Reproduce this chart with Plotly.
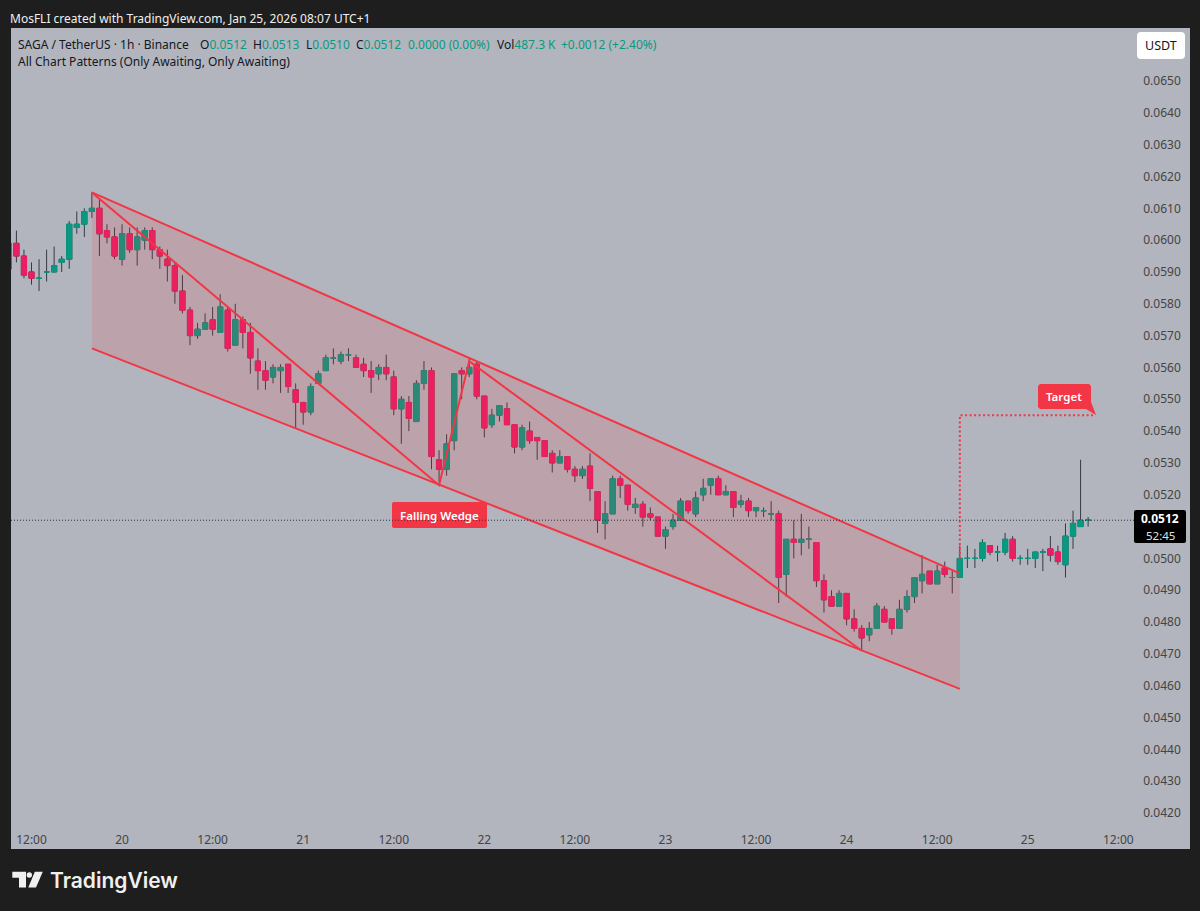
import pandas as pd
import plotly.graph_objects as go

# hourly candles, prices in ticks of 0.0001, first candle is Jan 19 09:00
PRICE_TICK = 0.0001
start = "2026-01-19 09:00"

opens = [
    591, 599, 595, 590, 588, 590, 590, 593, 594, 604, 605, 609,
    610, 603, 601, 594, 602, 597, 600, 603, 597, 594, 592, 584,
    578, 570, 572, 575, 571, 578, 567, 575, 571, 562, 559, 557,
    559, 561, 553, 549, 546, 555, 559, 563, 562, 564, 563, 561,
    559, 558, 560, 557, 547, 549, 543, 555, 559, 531, 528, 537,
    559, 558, 561, 551, 542, 545, 547, 542, 535, 540, 538, 537,
    533, 530, 532, 528, 526, 529, 521, 511, 514, 525, 523, 516,
    517, 514, 513, 507, 510, 512, 518, 514, 520, 523, 525, 520,
    521, 517, 518, 515, 515, 514, 514, 495, 506, 505, 506, 505,
    493, 488, 485, 489, 481, 478, 476, 478, 484, 481, 478, 484,
    488, 493, 496, 492, 497, 494, 494, 500, 500, 500, 504, 502,
    502, 506, 500, 500, 500, 502, 503, 502, 498, 507, 510, 512,
]
highs = [
    600, 603, 597, 593, 594, 597, 598, 595, 606, 609, 610, 615,
    613, 605, 604, 605, 604, 604, 604, 604, 598, 597, 593, 589,
    579, 574, 577, 579, 583, 579, 580, 576, 574, 566, 562, 561,
    561, 561, 555, 549, 555, 559, 564, 566, 565, 566, 564, 563,
    562, 561, 564, 559, 551, 551, 556, 562, 560, 534, 539, 558,
    560, 563, 562, 551, 547, 548, 549, 542, 542, 543, 538, 537,
    534, 534, 532, 529, 529, 533, 521, 518, 526, 526, 523, 519,
    518, 516, 513, 510, 514, 519, 518, 521, 525, 525, 526, 523,
    521, 520, 519, 516, 516, 518, 515, 506, 512, 514, 510, 505,
    495, 490, 490, 489, 484, 479, 480, 486, 485, 481, 487, 490,
    494, 501, 496, 498, 499, 496, 504, 504, 503, 506, 504, 504,
    508, 507, 501, 503, 502, 503, 507, 504, 511, 515, 531, 513,
]
lows = [
    590, 593, 588, 586, 584, 587, 590, 590, 591, 602, 601, 607,
    595, 599, 594, 592, 596, 592, 597, 594, 591, 587, 580, 577,
    567, 569, 572, 570, 571, 565, 567, 566, 558, 553, 553, 555,
    552, 552, 541, 542, 545, 555, 559, 561, 561, 562, 560, 557,
    552, 556, 556, 545, 536, 540, 543, 553, 528, 524, 526, 534,
    550, 557, 550, 538, 541, 543, 542, 533, 534, 536, 531, 532,
    527, 530, 527, 524, 525, 518, 508, 506, 514, 519, 515, 514,
    510, 512, 507, 503, 509, 512, 514, 513, 518, 520, 520, 520,
    513, 516, 513, 513, 513, 512, 486, 488, 500, 501, 503, 491,
    483, 485, 485, 479, 477, 471, 474, 478, 480, 476, 478, 483,
    486, 489, 492, 492, 494, 489, 494, 497, 497, 499, 501, 499,
    501, 499, 498, 498, 497, 496, 499, 498, 494, 503, 510, 510,
]
closes = [
    599, 595, 589, 588, 588, 590, 592, 594, 605, 605, 609, 610,
    602, 601, 595, 602, 597, 601, 603, 597, 595, 592, 584, 578,
    570, 572, 574, 572, 579, 566, 575, 571, 563, 559, 556, 560,
    560, 554, 549, 546, 554, 558, 563, 563, 564, 564, 560, 559,
    557, 560, 558, 547, 550, 544, 555, 559, 532, 528, 536, 558,
    558, 560, 551, 541, 545, 548, 542, 535, 541, 537, 537, 532,
    530, 532, 528, 526, 528, 522, 512, 514, 525, 523, 517, 517,
    513, 513, 507, 509, 512, 518, 515, 519, 522, 525, 520, 521,
    516, 518, 515, 516, 515, 514, 494, 506, 505, 506, 506, 493,
    487, 485, 489, 481, 478, 475, 478, 485, 480, 478, 484, 488,
    494, 495, 492, 496, 495, 494, 500, 500, 500, 505, 502, 502,
    506, 500, 500, 500, 502, 502, 501, 499, 507, 511, 512, 512,
]

# falling wedge, drawn by the indicator
upper_x = ["2026-01-19 20:00", "2026-01-24 15:00"]
upper_y = [0.0615, 0.04953]
lower_x = ["2026-01-19 20:00", "2026-01-24 15:00"]
lower_y = [0.0566, 0.0459]
zigzag_x = ["2026-01-19 20:00", "2026-01-21 18:00", "2026-01-21 22:00", "2026-01-24 02:00"]
zigzag_y = [0.0615, 0.0523, 0.0562, 0.0471]
target_x = ["2026-01-24 15:00", "2026-01-24 15:00", "2026-01-25 09:00"]
target_y = [0.0500, 0.0545, 0.0545]

last_price = 0.0512
# 0.0510 is hidden by the last price tag
price_ticks = [0.0420, 0.0430, 0.0440, 0.0450, 0.0460, 0.0470, 0.0480, 0.0490, 0.0500, 0.0520, 0.0530,
               0.0540, 0.0550, 0.0560, 0.0570, 0.0580, 0.0590, 0.0600, 0.0610, 0.0620, 0.0630, 0.0640, 0.0650]
time_ticks = ["2026-01-19 12:00", "2026-01-20 00:00", "2026-01-20 12:00", "2026-01-21 00:00", "2026-01-21 12:00",
              "2026-01-22 00:00", "2026-01-22 12:00", "2026-01-23 00:00", "2026-01-23 12:00", "2026-01-24 00:00",
              "2026-01-24 12:00", "2026-01-25 00:00", "2026-01-25 12:00"]
time_labels = ["12:00", "20", "12:00", "21", "12:00", "22", "12:00", "23", "12:00", "24", "12:00", "25", "12:00"]

UP = "#089981"
DOWN = "#e91e63"
RED = "#f23645"
WICK = "#363a45"
PANEL = "#b2b5be"
DARK = "#1e1e1e"
INK = "#131722"
FONT = "Noto Sans"

df = pd.DataFrame({"open": opens, "high": highs, "low": lows, "close": closes}) * PRICE_TICK
df["time"] = pd.date_range(start, periods=len(df), freq="h")

# pixel helpers for the page furniture around the chart
L, R, T, B = 11, 1190, 28, 849
def px(x):
    return (x - L) / (R - L)
def py(y):
    return 1 - (y - T) / (B - T)
def rrect(x0, y0, x1, y1, r):
    pts = [("M", x0 + r, y0), ("L", x1 - r, y0), ("Q", x1, y0, x1, y0 + r), ("L", x1, y1 - r), ("Q", x1, y1, x1 - r, y1),
           ("L", x0 + r, y1), ("Q", x0, y1, x0, y1 - r), ("L", x0, y0 + r), ("Q", x0, y0, x0 + r, y0)]
    out = ""
    for p in pts:
        out += p[0] + " ".join(f"{px(p[i]):.5f},{py(p[i + 1]):.5f}" for i in range(1, len(p), 2)) + " "
    return out + "Z"
def poly(points):
    return "M" + " L".join(f"{px(a):.5f},{py(b):.5f}" for a, b in points) + " Z"

fig = go.Figure()

# wedge body and its lines go under the candles
fig.add_trace(go.Scatter(x=upper_x + lower_x[::-1], y=upper_y + lower_y[::-1], fill="toself", mode="none",
                         fillcolor="rgba(242,54,69,0.15)"))
wedge_line = dict(color=RED, width=2)
fig.add_trace(go.Scatter(x=upper_x, y=upper_y, mode="lines", line=wedge_line))
fig.add_trace(go.Scatter(x=lower_x, y=lower_y, mode="lines", line=wedge_line))
fig.add_trace(go.Scatter(x=zigzag_x, y=zigzag_y, mode="lines", line=wedge_line))
fig.add_trace(go.Scatter(x=target_x, y=target_y, mode="lines", line=dict(color=RED, width=2, dash="2px,2.5px")))

# wicks are dark while bodies are coloured, so they need their own trace
fig.add_trace(go.Candlestick(x=df["time"], open=df["open"], high=df["high"], low=df["low"], close=df["close"],
                             whiskerwidth=0,
                             increasing=dict(line=dict(color=WICK, width=1), fillcolor="rgba(0,0,0,0)"),
                             decreasing=dict(line=dict(color=WICK, width=1), fillcolor="rgba(0,0,0,0)")))
for part, colour in [(df[df["close"] >= df["open"]], UP), (df[df["close"] < df["open"]], DOWN)]:
    top = part[["open", "close"]].max(axis=1)
    bottom = part[["open", "close"]].min(axis=1)
    fig.add_trace(go.Candlestick(x=part["time"], open=part["open"], high=top, low=bottom, close=part["close"],
                                 increasing=dict(line=dict(color=colour, width=1), fillcolor=colour),
                                 decreasing=dict(line=dict(color=colour, width=1), fillcolor=colour)))

shapes = [
    dict(type="path", xref="paper", yref="paper", path=rrect(392, 502, 487, 528, 2), fillcolor=RED, line=dict(width=0)),
    dict(type="path", xref="paper", yref="paper", fillcolor=RED, line=dict(width=0),
         path=poly([(1040, 384), (1089, 384), (1091, 386), (1091, 402), (1096, 415), (1086, 409), (1040, 409), (1038, 407), (1038, 386)])),
    dict(type="line", xref="paper", yref="y", x0=0, x1=px(1134), y0=last_price, y1=last_price,
         line=dict(color="#30333b", width=1, dash="1px,2px")),
    dict(type="path", xref="paper", yref="paper", path=rrect(1134, 510, 1186, 543, 2), fillcolor="#000000", line=dict(width=0)),
    dict(type="path", xref="paper", yref="paper", path=rrect(1137, 32, 1185, 59, 4), fillcolor="#ffffff", line=dict(width=0)),
    # logo mark
    dict(type="path", xref="paper", yref="paper", fillcolor="#f0f0f0", line=dict(width=0),
         path=poly([(12.3, 871.7), (26, 871.7), (26, 887.5), (19, 887.5), (19, 877.7), (12.3, 877.7)])),
    dict(type="circle", xref="paper", yref="paper", x0=px(26.6), x1=px(32), y0=py(872.3), y1=py(877.7),
         fillcolor="#f0f0f0", line=dict(width=0)),
    dict(type="path", xref="paper", yref="paper", fillcolor="#f0f0f0", line=dict(width=0),
         path=poly([(34.8, 871.7), (42.8, 871.7), (36, 887.5), (28.3, 887.5)])),
]

def label(x, y, text, size=12, color=INK, anchor="left", weight=None, family=FONT, pad=1):
    font = dict(family=family, size=size, color=color)
    if weight:
        font["weight"] = weight
    # annotations sit about 2px right of the anchor because of their padding
    left = x - 2 if anchor == "left" else x
    return dict(xref="paper", yref="paper", x=px(left), y=py(y), text=text, showarrow=False,
                xanchor=anchor, yanchor="middle", font=font, borderpad=pad)

annotations = [
    label(10, 19, "MosFLI created with TradingView.com, Jan 25, 2026 08:07 UTC+1", size=12, color="#f0f0f0"),
    label(18, 44, "SAGA / TetherUS · 1h · Binance", size=12),
    label(200, 44, f'O<span style="color:{UP}">0.0512</span>', size=12),
    label(253, 44, f'H<span style="color:{UP}">0.0513</span>', size=12),
    label(305.5, 44, f'L<span style="color:{UP}">0.0510</span>', size=12),
    label(356, 44, f'C<span style="color:{UP}">0.0512</span>', size=12),
    label(408, 44, "0.0000 (0.00%)", size=12, color=UP),
    label(497, 44, f'Vol<span style="color:{UP}">487.3 K</span>', size=12),
    label(560.5, 44, "+0.0012 (+2.40%)", size=12, color=UP),
    label(18, 61.5, "All Chart Patterns (Only Awaiting, Only Awaiting)", size=12),
    label(439.5, 515, "Falling Wedge", size=11.5, color="#ffffff", anchor="center", weight=600),
    label(1064, 396.5, "Target", size=11.5, color="#ffffff", anchor="center", weight=600),
    label(1160, 518.5, "0.0512", size=12, color="#ffffff", anchor="center", weight=700, pad=0),
    label(1160, 535, "52:45", size=11.5, color="#e0e0e0", anchor="center", pad=0),
    label(1161, 45.5, "USDT", size=12.5, color=INK, anchor="center"),
    label(50, 880, "TradingView", size=21, color="#f0f0f0", weight=600, family="Inter"),
]

fig.update_layout(
    width=1200, height=911,
    margin=dict(l=L, r=1200 - R, t=T, b=911 - B),
    paper_bgcolor=DARK, plot_bgcolor=PANEL,
    showlegend=False, boxgap=0.02,
    font=dict(family=FONT, size=12, color=INK),
    shapes=shapes, annotations=annotations,
    xaxis=dict(
        type="date", rangeslider=dict(visible=False), showgrid=False, zeroline=False,
        range=["2026-01-19 09:17", "2026-01-25 21:30"],
        tickmode="array", tickvals=time_ticks, ticktext=time_labels,
        ticklabelposition="inside", ticks="", showline=False,
    ),
    yaxis=dict(
        side="right", range=[0.04087, 0.066665], showgrid=False, zeroline=False,
        tickmode="array", tickvals=price_ticks, ticktext=[f"{p:.4f}\u00a0\u00a0" for p in price_ticks],
        ticklabelposition="inside", ticks="", showline=False,
    ),
)

fig.write_html("out.html", config={"displayModeBar": False},
               post_script="document.body.style.margin='0';document.body.style.overflow='hidden';")
